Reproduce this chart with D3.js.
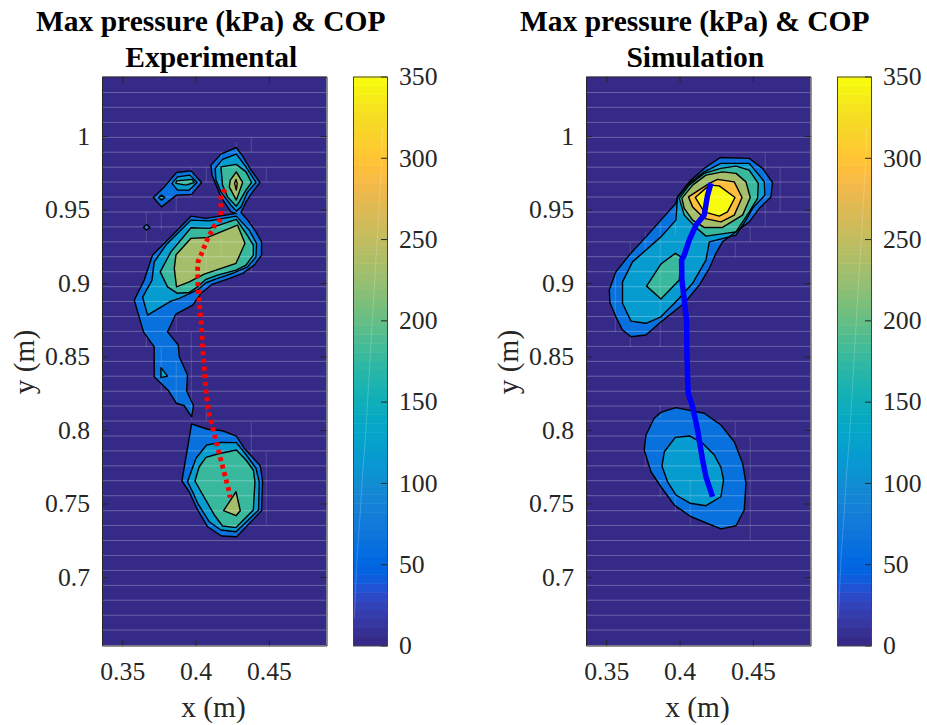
<!DOCTYPE html>
<html>
<head>
<meta charset="utf-8">
<script src="https://cdn.jsdelivr.net/npm/d3@7"></script>
<style>
html, body { margin: 0; padding: 0; background: #fff; }
svg { display: block; }
text { font-family: "Liberation Serif", serif; }
</style>
</head>
<body>
<div id="chart"></div>
<script>
// parula, 64 steps
var parula = [
 [0.2081,0.1663,0.5292],[0.2116,0.1898,0.5777],[0.2123,0.2138,0.6270],[0.2081,0.2386,0.6771],
 [0.1959,0.2645,0.7279],[0.1707,0.2919,0.7792],[0.1253,0.3242,0.8303],[0.0591,0.3598,0.8683],
 [0.0117,0.3875,0.8820],[0.0060,0.4086,0.8828],[0.0165,0.4266,0.8786],[0.0329,0.4430,0.8720],
 [0.0498,0.4586,0.8641],[0.0629,0.4737,0.8554],[0.0723,0.4887,0.8467],[0.0779,0.5040,0.8384],
 [0.0793,0.5200,0.8312],[0.0749,0.5375,0.8263],[0.0641,0.5570,0.8240],[0.0488,0.5772,0.8228],
 [0.0343,0.5966,0.8199],[0.0265,0.6137,0.8135],[0.0239,0.6287,0.8038],[0.0231,0.6418,0.7913],
 [0.0228,0.6535,0.7768],[0.0267,0.6642,0.7607],[0.0384,0.6743,0.7436],[0.0590,0.6838,0.7254],
 [0.0843,0.6928,0.7062],[0.1133,0.7015,0.6859],[0.1453,0.7098,0.6646],[0.1801,0.7177,0.6424],
 [0.2178,0.7250,0.6193],[0.2586,0.7317,0.5954],[0.3022,0.7376,0.5712],[0.3482,0.7424,0.5473],
 [0.3953,0.7459,0.5244],[0.4420,0.7481,0.5033],[0.4871,0.7491,0.4840],[0.5300,0.7491,0.4661],
 [0.5709,0.7485,0.4494],[0.6099,0.7473,0.4337],[0.6473,0.7456,0.4188],[0.6834,0.7435,0.4044],
 [0.7184,0.7411,0.3905],[0.7525,0.7384,0.3768],[0.7858,0.7356,0.3633],[0.8185,0.7327,0.3498],
 [0.8507,0.7299,0.3360],[0.8824,0.7274,0.3217],[0.9139,0.7258,0.3063],[0.9450,0.7261,0.2886],
 [0.9739,0.7314,0.2666],[0.9938,0.7455,0.2403],[0.9990,0.7653,0.2164],[0.9955,0.7861,0.1967],
 [0.9880,0.8066,0.1794],[0.9789,0.8271,0.1633],[0.9697,0.8481,0.1475],[0.9626,0.8705,0.1309],
 [0.9589,0.8949,0.1132],[0.9598,0.9218,0.0948],[0.9661,0.9514,0.0755],[0.9763,0.9831,0.0538]
];

var xTicks = [0.35, 0.4, 0.45];
var xTickLabels = ["0.35", "0.4", "0.45"];
var yTicks = [0.7, 0.75, 0.8, 0.85, 0.9, 0.95, 1];
var yTickLabels = ["0.7", "0.75", "0.8", "0.85", "0.9", "0.95", "1"];
var cTicks = [0, 50, 100, 150, 200, 250, 300, 350];

// experimental contours, [x, y] in metres
var expMain50 = [[.4278,.9922],[.4321,.9863],[.4378,.9768],[.4439,.9684],[.4389,.9620],[.4344,.9552],[.4310,.9480],[.4355,.9428],[.4412,.9348],[.4450,.9280],[.4450,.9190],[.4400,.9122],[.4321,.9066],[.4218,.9027],[.4116,.8993],[.4037,.8930],[.3980,.8850],[.3866,.8789],[.3809,.8668],[.3882,.8578],[.3889,.8498],[.3945,.8374],[.3939,.8267],[.3986,.8165],[.3973,.8090],[.3923,.8165],[.3870,.8182],[.3816,.8267],[.3718,.8362],[.3718,.8566],[.3645,.8668],[.3582,.8884],[.3650,.9020],[.3707,.9190],[.3798,.9280],[.3969,.9455],[.4071,.9440],[.4278,.9474],[.4241,.9484],[.4173,.9586],[.4112,.9734],[.4105,.9802],[.4173,.9877]];
var expMain100 = [[.3639,.8904],[.3673,.8782],[.3832,.8877],[.3889,.8896],[.4020,.8957],[.4071,.9002],[.4150,.9032],[.4264,.9070],[.4355,.9110],[.4412,.9178],[.4416,.9270],[.4366,.9360],[.4278,.9455],[.4093,.9423],[.3969,.9428],[.3798,.9258],[.3718,.9144],[.3703,.9020]];
var expMain150 = [[.3759,.9076],[.3832,.9212],[.3969,.9376],[.4093,.9372],[.4278,.9433],[.4344,.9338],[.4394,.9258],[.4394,.9190],[.4344,.9122],[.4276,.9088],[.4150,.9054],[.4071,.9025],[.4014,.8974],[.3957,.8936],[.3877,.8930],[.3809,.8974]];
var expMain200 = [[.3870,.8974],[.3855,.9100],[.3866,.9190],[.3969,.9304],[.4082,.9310],[.4286,.9394],[.4337,.9270],[.4276,.9134],[.4139,.9088],[.4059,.9061],[.3957,.9008]];
var expToe100 = [[.4134,.9780],[.4184,.9841],[.4278,.9877],[.4344,.9790],[.4412,.9684],[.4355,.9620],[.4310,.9518],[.4278,.9489],[.4241,.9530],[.4173,.9620],[.4139,.9700]];
var expToe150 = [[.4173,.9790],[.4278,.9807],[.4344,.9756],[.4382,.9684],[.4344,.9632],[.4298,.9552],[.4278,.9523],[.4218,.9586],[.4184,.9666]];
var expToe200 = [[.4278,.9756],[.4321,.9684],[.4278,.9564],[.4230,.9654],[.4237,.9700]];
var expToe250 = [[.4276,.9705],[.4284,.9678],[.4278,.9632],[.4266,.9678]];
var expSmall50 = [[.3870,.9752],[.3969,.9763],[.4041,.9684],[.3973,.9603],[.3870,.9598],[.3768,.9518],[.3712,.9582],[.3787,.9654]];
var expSmall100 = [[.3877,.9722],[.3962,.9734],[.4010,.9684],[.3957,.9632],[.3877,.9632],[.3839,.9678]];
var expSmall150 = [[.3870,.9695],[.3975,.9705],[.3991,.9684],[.3935,.9666],[.3866,.9678]];
var expDot100 = [[.3768,.9598],[.3791,.9582],[.3768,.9564],[.3748,.9582]];
var expSpot50 = [[.3666,.9399],[.3689,.9378],[.3666,.9360],[.3645,.9378]];
var expArch100 = [[.3764,.8424],[.3809,.8367],[.3764,.8356]];
var expHeel50 = [[.3973,.8041],[.4082,.8005],[.4184,.7995],[.4278,.7959],[.4332,.7876],[.4441,.7757],[.4457,.7648],[.4450,.7451],[.4280,.7274],[.4177,.7279],[.4082,.7342],[.4014,.7456],[.3957,.7580],[.3907,.7653]];
var expHeel100 = [[.4075,.7898],[.4173,.7916],[.4278,.7914],[.4337,.7842],[.4412,.7740],[.4434,.7648],[.4430,.7456],[.4276,.7308],[.4173,.7320],[.4093,.7376],[.4014,.7502],[.3980,.7580],[.3945,.7648],[.4003,.7808]];
var expHeel150 = [[.4071,.7814],[.4150,.7837],[.4278,.7864],[.4344,.7796],[.4394,.7728],[.4405,.7648],[.4394,.7456],[.4276,.7336],[.4184,.7347],[.4128,.7422],[.4082,.7502],[.4037,.7580],[.3996,.7653],[.4025,.7750]];
var expHeel200 = [[.4276,.7580],[.4305,.7451],[.4276,.7417],[.4191,.7451]];

// simulation contours
var simFore50 = [[.4278,.9854],[.4475,.9848],[.4566,.9780],[.4634,.9684],[.4623,.9586],[.4544,.9508],[.4475,.9416],[.4293,.9280],[.4248,.9202],[.4203,.9100],[.4134,.8986],[.4032,.8862],[.3873,.8736],[.3771,.8646],[.3669,.8634],[.3611,.8680],[.3566,.8770],[.3525,.8868],[.3521,.8952],[.3566,.9076],[.3657,.9190],[.3771,.9314],[.3873,.9428],[.3975,.9542],[.3986,.9586],[.4066,.9688],[.4168,.9780]];
var simFore100 = [[.4282,.9814],[.4475,.9814],[.4532,.9746],[.4578,.9688],[.4582,.9598],[.4498,.9508],[.4453,.9428],[.4385,.9326],[.4203,.9280],[.4180,.9156],[.4089,.8998],[.3986,.8884],[.3873,.8770],[.3771,.8726],[.3669,.8741],[.3611,.8862],[.3611,.9008],[.3679,.9144],[.3873,.9314],[.3975,.9428],[.3986,.9582],[.4066,.9678],[.4168,.9756]];
var simFore150 = [[.4168,.9746],[.4282,.9780],[.4385,.9795],[.4475,.9768],[.4537,.9678],[.4532,.9576],[.4475,.9484],[.4385,.9348],[.4180,.9319],[.4112,.9378],[.4032,.9462],[.3998,.9576],[.4066,.9666]];
var simArch150 = [[.3971,.9202],[.4010,.9178],[.3998,.9020],[.3873,.8891],[.3775,.8979],[.3873,.9129]];
var simFore200 = [[.4180,.9734],[.4293,.9756],[.4385,.9746],[.4453,.9688],[.4482,.9582],[.4430,.9462],[.4293,.9378],[.4168,.9378],[.4089,.9428],[.4032,.9508],[.4016,.9576],[.4089,.9666]];
var simFore250 = [[.4203,.9678],[.4259,.9705],[.4373,.9688],[.4426,.9582],[.4373,.9462],[.4282,.9416],[.4168,.9440],[.4089,.9518],[.4061,.9586]];
var simFore300 = [[.4271,.9661],[.4378,.9582],[.4327,.9484],[.4271,.9455],[.4168,.9484],[.4107,.9582],[.4203,.9666]];
var simHeel50 = [[.3975,.8152],[.4168,.8114],[.4282,.8034],[.4373,.7920],[.4430,.7774],[.4453,.7638],[.4441,.7456],[.4385,.7349],[.4282,.7327],[.4078,.7410],[.3964,.7490],[.3873,.7614],[.3805,.7716],[.3759,.7864],[.3771,.7966],[.3827,.8080],[.3873,.8120]];
var simHeel100 = [[.3971,.7950],[.4071,.7959],[.4157,.7910],[.4237,.7830],[.4282,.7746],[.4300,.7660],[.4282,.7546],[.4180,.7485],[.4071,.7502],[.3975,.7558],[.3918,.7648],[.3880,.7755],[.3896,.7852]];

// centre of pressure paths
var expCop = [[.4203,.9637],[.4173,.9598],[.4173,.9482],[.4166,.9428],[.4128,.9389],[.4078,.9292],[.4037,.9190],[.4018,.9149],[.4014,.9100],[.4016,.8986],[.4030,.8823],[.4044,.8662],[.4048,.8553],[.4059,.8442],[.4064,.8338],[.4075,.8229],[.4091,.8120],[.4116,.8016],[.4157,.7857],[.4198,.7699],[.4225,.7597],[.4235,.7540]];
var simCop = [[.4214,.9678],[.4191,.9598],[.4168,.9462],[.4112,.9394],[.4066,.9292],[.4032,.9190],[.4014,.9156],[.4016,.9020],[.4032,.8884],[.4048,.8748],[.4050,.8556],[.4055,.8340],[.4059,.8250],[.4089,.8158],[.4123,.8000],[.4157,.7796],[.4180,.7682],[.4225,.7546]];

// mesh lines left behind by the patch edges
var meshY = [.6639,.6740,.6842,.6943,.7045,.7147,.7248,.7350,.7451,.7553,.7655,.7756,.7858,.7959,.8061,.8163,.8264,.8366,.8467,.8569,.8671,.8772,.8874,.8975,.9077,.9179,.9280,.9382,.9483,.9585,.9687,.9788,.9890,.9991,1.0093,1.0195,1.0296];
var expMeshX = [[.3664,.9482,.9278],[.3664,.8666,.8564],[.3766,.9482,.9360],[.3766,.8564,.8258],[.3868,.9584,.9482],[.3868,.8768,.8666],[.3868,.8462,.8184],[.3971,.9788,.9584],[.3971,.8666,.8068],[.4073,.9788,.9686],[.4073,.9312,.9074],[.4073,.8156,.8068],[.4175,.9890,.9788],[.4175,.9312,.9176],[.4278,.9958,.9890],[.4380,.9992,.9890],[.4380,.9414,.9074],[.4380,.8054,.7748],[.4482,.9788,.9686],[.4482,.7850,.7354]];
var simMeshX = [[.3562,.9074,.8666],[.3664,.9278,.9190],[.3664,.8632,.8564],[.3766,.9346,.9210],[.3766,.7864,.7748],[.3868,.9428,.8564],[.3868,.8170,.8082],[.3868,.7660,.7544],[.3971,.9516,.9326],[.3971,.7558,.7442],[.4073,.7660,.7354],[.4380,.9278,.9176],[.4380,.8054,.7952],[.4482,.9380,.9278],[.4482,.7952,.7252],[.4584,.9884,.9380],[.4686,.9788,.9482]];
// faint seam across the colorbar: [fraction of bar width, value]
var cbSeam = [[.04,17],[.12,55],[.215,82],[.27,102],[.36,126],[.83,292],[.87,318]];

var expContours = [
  [50, expMain50], [50, expSmall50], [50, expSpot50], [50, expHeel50],
  [100, expMain100], [100, expToe100], [100, expSmall100], [100, expDot100], [100, expArch100], [100, expHeel100],
  [150, expMain150], [150, expToe150], [150, expSmall150], [150, expHeel150],
  [200, expMain200], [200, expToe200], [200, expHeel200],
  [250, expToe250]
];
var simContours = [
  [50, simFore50], [50, simHeel50],
  [100, simFore100], [100, simHeel100],
  [150, simFore150], [150, simArch150],
  [200, simFore200], [250, simFore250], [300, simFore300]
];

function rgb(c) {
  return "rgb(" + Math.round(c[0] * 255) + "," + Math.round(c[1] * 255) + "," + Math.round(c[2] * 255) + ")";
}
// contourf bands run over 0-300, the bar over 0-350
function levelColor(level) {
  return rgb(parula[Math.round(level / 300 * 63)]);
}

var svg = d3.select("#chart").append("svg").attr("width", 927).attr("height", 725);
var axisColor = "#262626";

function drawPanel(left, id, subtitle, contours, meshX, cop, copColor, copWidth, copDash) {
  var plotW = 224.5, plotH = 569, top = 76.5;
  var g = svg.append("g").attr("transform", "translate(" + left + "," + top + ")");

  var x = d3.scaleLinear().domain([0.3362, 0.4893]).range([0, plotW]);
  var y = d3.scaleLinear().domain([0.6534, 1.0405]).range([plotH, 0]);

  g.append("clipPath").attr("id", id).append("rect").attr("width", plotW).attr("height", plotH);
  var plot = g.append("g").attr("clip-path", "url(#" + id + ")");

  plot.append("rect").attr("width", plotW).attr("height", plotH).attr("fill", levelColor(0));

  var line = d3.line().x(function (d) { return x(d[0]); }).y(function (d) { return y(d[1]); });

  plot.selectAll("path.band").data(contours).enter().append("path")
    .attr("class", "band")
    .attr("d", function (d) { return line(d[1]) + "Z"; })
    .attr("fill", function (d) { return levelColor(d[0]); })
    .attr("stroke", "none");

  // faint patch seams
  plot.selectAll("line.my").data(meshY).enter().append("line")
    .attr("class", "my")
    .attr("x1", 0).attr("x2", plotW)
    .attr("y1", function (d) { return y(d); }).attr("y2", function (d) { return y(d); })
    .attr("stroke", "#fff").attr("stroke-opacity", 0.27).attr("stroke-width", 1);
  plot.selectAll("line.mx").data(meshX).enter().append("line")
    .attr("class", "mx")
    .attr("x1", function (d) { return x(d[0]); }).attr("x2", function (d) { return x(d[0]); })
    .attr("y1", function (d) { return y(d[1]); }).attr("y2", function (d) { return y(d[2]); })
    .attr("stroke", "#fff").attr("stroke-opacity", 0.16).attr("stroke-width", 1);

  plot.selectAll("path.iso").data(contours).enter().append("path")
    .attr("class", "iso")
    .attr("d", function (d) { return line(d[1]) + "Z"; })
    .attr("fill", "none")
    .attr("stroke", "#000").attr("stroke-width", 1.4).attr("stroke-linejoin", "round");

  plot.append("path").datum(cop)
    .attr("d", line)
    .attr("fill", "none")
    .attr("stroke", copColor)
    .attr("stroke-width", copWidth)
    .attr("stroke-dasharray", copDash);

  // axes, box on with ticks pointing in
  var xAxis = d3.axisBottom(x).tickValues(xTicks)
    .tickFormat(function (d, i) { return xTickLabels[i]; })
    .tickSizeInner(-6).tickSizeOuter(0).tickPadding(16);
  var xAxisT = d3.axisTop(x).tickValues(xTicks).tickFormat("").tickSizeInner(-6).tickSizeOuter(0);
  var yAxis = d3.axisLeft(y).tickValues(yTicks)
    .tickFormat(function (d, i) { return yTickLabels[i]; })
    .tickSizeInner(-6).tickSizeOuter(0).tickPadding(12);
  var yAxisR = d3.axisRight(y).tickValues(yTicks).tickFormat("").tickSizeInner(-6).tickSizeOuter(0);

  var gx = g.append("g").attr("transform", "translate(0," + plotH + ")").call(xAxis);
  g.append("g").call(xAxisT);
  var gy = g.append("g").call(yAxis);
  g.append("g").attr("transform", "translate(" + plotW + ",0)").call(yAxisR);
  [gx, gy].forEach(function (a) {
    a.selectAll("text").attr("font-size", 25.7).attr("fill", axisColor)
      .attr("font-family", "Liberation Serif");
  });
  g.selectAll(".domain, .tick line").attr("stroke", axisColor).attr("stroke-width", 1);

  g.append("text").attr("x", 111.5).attr("y", plotH + 71)
    .attr("text-anchor", "middle").attr("font-size", 29.3).attr("fill", axisColor).text("x (m)");
  g.append("text").attr("transform", "translate(-68,285.5) rotate(-90)")
    .attr("text-anchor", "middle").attr("font-size", 29.3).attr("fill", axisColor).text("y (m)");

  g.append("text").attr("x", plotW / 2 - 3.5).attr("y", -46)
    .attr("text-anchor", "middle").attr("font-size", 29.5).attr("font-weight", "bold").attr("fill", "#000")
    .text("Max pressure (kPa) & COP");
  g.append("text").attr("x", plotW / 2 - 3).attr("y", -10)
    .attr("text-anchor", "middle").attr("font-size", 29.5).attr("font-weight", "bold").attr("fill", "#000")
    .text(subtitle);

  // colorbar
  var barX = plotW + 26.5, barW = 34;
  var cb = g.append("g").attr("transform", "translate(" + barX + ",0)");
  var c = d3.scaleLinear().domain([0, 350]).range([plotH, 0]);
  var bands = d3.scaleBand().domain(d3.range(parula.length)).range([plotH, 0]);
  cb.selectAll("rect").data(parula).enter().append("rect")
    .attr("x", 0).attr("width", barW)
    .attr("y", function (d, i) { return bands(i); })
    .attr("height", bands.bandwidth() + 0.5)
    .attr("fill", function (d) { return rgb(d); });
  cb.append("path").datum(cbSeam)
    .attr("d", d3.line().x(function (d) { return d[0] * barW; }).y(function (d) { return c(d[1]); }))
    .attr("fill", "none").attr("stroke", "#fff").attr("stroke-opacity", 0.2).attr("stroke-width", 1);
  var cAxis = d3.axisRight(c).tickValues(cTicks).tickSizeInner(-6).tickSizeOuter(0).tickPadding(12)
    .tickFormat(d3.format("d"));
  var gc = cb.append("g").attr("transform", "translate(" + barW + ",0)").call(cAxis);
  gc.selectAll("text").attr("font-size", 25.7).attr("fill", axisColor).attr("font-family", "Liberation Serif");
  gc.selectAll(".domain, .tick line").attr("stroke", axisColor).attr("stroke-width", 1);
  cb.append("rect").attr("x", 0.5).attr("y", 0.5).attr("width", barW).attr("height", plotH).attr("fill", "none")
    .attr("stroke", "#444").attr("stroke-width", 1);
}

drawPanel(102, "clipExp", "Experimental", expContours, expMeshX, expCop, "#ff0000", 4.8, "4 3.7");
drawPanel(586, "clipSim", "Simulation", simContours, simMeshX, simCop, "#0000ff", 5.5, null);
</script>
</body>
</html>
